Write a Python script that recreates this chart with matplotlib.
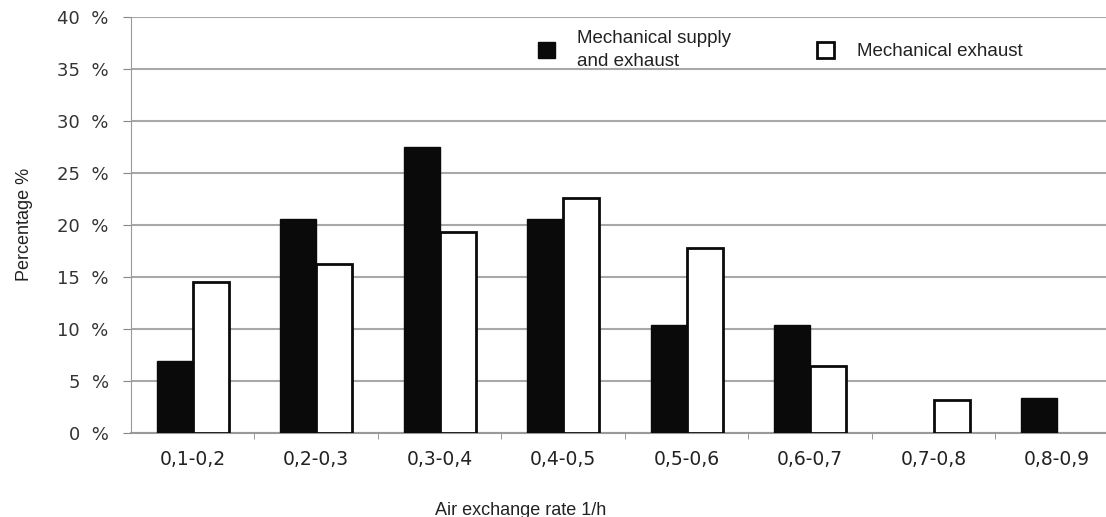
import numpy as np
import matplotlib
matplotlib.use('Agg')
import matplotlib.pyplot as plt
from matplotlib.ticker import FuncFormatter, FixedLocator

plt.rcParams['font.family'] = ['Liberation Sans', 'DejaVu Sans']

categories = ['0,1-0,2', '0,2-0,3', '0,3-0,4', '0,4-0,5', '0,5-0,6', '0,6-0,7', '0,7-0,8', '0,8-0,9']
supply_exhaust = [6.9, 20.6, 27.5, 20.6, 10.4, 10.4, 0.0, 3.4]
exhaust_only = [14.5, 16.2, 19.3, 22.6, 17.8, 6.4, 3.2, 0.0]
series_labels = ['Mechanical supply\nand exhaust', 'Mechanical exhaust']

fig = plt.figure(figsize=(11.06, 5.17), dpi=100)
ax = fig.add_axes([0.1184, 0.1625, 0.8816, 0.805])

x = np.arange(len(categories))
width = 0.29

# empty categories get no bar at all (no outline on the baseline)
h1 = np.where(np.array(supply_exhaust) > 0, supply_exhaust, np.nan)
h2 = np.where(np.array(exhaust_only) > 0, exhaust_only, np.nan)

ax.bar(x - width / 2, h1, width=width, color='#0a0a0a',
       edgecolor='#0a0a0a', linewidth=1, label=series_labels[0], zorder=3)
ax.bar(x + width / 2, h2, width=width, color='white',
       edgecolor='#0a0a0a', linewidth=2, label=series_labels[1], zorder=3)

ax.set_ylim(0, 40)
ax.set_xlim(-0.5, -0.5 + 975 / 123.5)
ax.set_yticks(range(0, 41, 5))
ax.yaxis.set_major_formatter(FuncFormatter(lambda v, p: f'{int(v)}  %'))
ax.yaxis.grid(True, color='#a8a8a8', linewidth=1.5, zorder=0)
ax.set_axisbelow(True)

ax.set_xticks(x)
ax.set_xticklabels(categories, fontsize=13.5, color='#222222', family='DejaVu Sans')
ax.xaxis.set_minor_locator(FixedLocator(x[:-1] + 0.5))
ax.tick_params(axis='x', which='major', length=0, pad=12)
ax.tick_params(axis='x', which='minor', length=4, color='#888888')
ax.tick_params(axis='y', length=6, color='#888888', labelsize=13,
               labelcolor='#333333', pad=10)
for t in ax.get_yticklabels():
    t.set_family('DejaVu Sans')

for s in ['top', 'right']:
    ax.spines[s].set_visible(False)
ax.spines['left'].set_color('#999999')
ax.spines['bottom'].set_color('#999999')
ax.spines['bottom'].set_linewidth(1.5)

ax.set_ylabel('Percentage %', fontsize=13, color='#222222')
ax.yaxis.set_label_coords(-0.100, 0.5)
ax.set_xlabel('Air exchange rate 1/h', fontsize=13, color='#222222')
ax.xaxis.set_label_coords(0.40, -0.165)
ax.xaxis.label.set_va('top')

leg = ax.legend(ncol=2, frameon=False, loc='upper left', bbox_to_anchor=(0.40, 1.01),
                fontsize=13.5, handlelength=0.9, handleheight=0.9,
                handletextpad=1.2, columnspacing=4.6)
for t in leg.get_texts():
    t.set_color('#222222')
    t.set_linespacing(1.5)

fig.savefig('out.png', dpi=100)
